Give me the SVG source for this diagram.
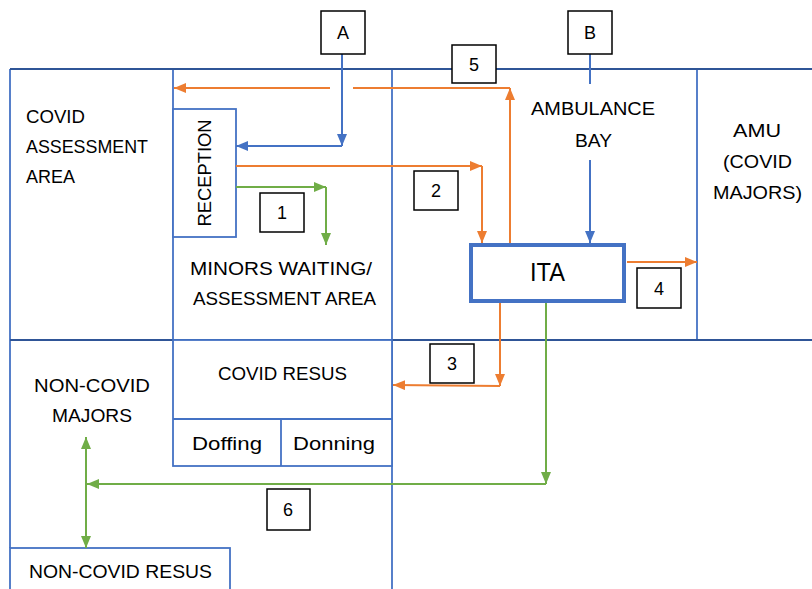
<svg xmlns="http://www.w3.org/2000/svg" width="812" height="589" viewBox="0 0 812 589">
<defs>
<style>
.wall{stroke:#4472C4;stroke-width:1.8;fill:none}
.main{stroke:#2F5597;stroke-width:2.2;fill:none}
.room{stroke:#4472C4;stroke-width:1.8;fill:#fff}
.t{font-family:"Liberation Sans",Arial,sans-serif;font-size:19px;fill:#000}
.c{text-anchor:middle}
.num{fill:#fff;stroke:#000;stroke-width:1.5}
.nt{font-family:"Liberation Sans",Arial,sans-serif;font-size:18px;fill:#000;text-anchor:middle}
.o{stroke:#ED7D31;stroke-width:2;fill:none}
.b{stroke:#4472C4;stroke-width:2;fill:none}
.g{stroke:#70AD47;stroke-width:2;fill:none}
</style>
<marker id="ao" viewBox="0 0 12 10" refX="12" refY="5" markerWidth="12" markerHeight="10" markerUnits="userSpaceOnUse" orient="auto"><path d="M0,0L12,5L0,10z" fill="#ED7D31"/></marker>
<marker id="ab" viewBox="0 0 12 10" refX="12" refY="5" markerWidth="12" markerHeight="10" markerUnits="userSpaceOnUse" orient="auto"><path d="M0,0L12,5L0,10z" fill="#4472C4"/></marker>
<marker id="ag" viewBox="0 0 12 10" refX="12" refY="5" markerWidth="12" markerHeight="10" markerUnits="userSpaceOnUse" orient="auto-start-reverse"><path d="M0,0L12,5L0,10z" fill="#70AD47"/></marker>
</defs>
<rect width="812" height="589" fill="#fff"/>

<g id="walls">
<line class="wall" x1="10" y1="69" x2="10" y2="548"/>
<line class="wall" x1="173" y1="69" x2="173" y2="340"/>
<line class="wall" x1="392" y1="69" x2="392" y2="589"/>
<line class="wall" x1="697" y1="69" x2="697" y2="340"/>
<line class="main" x1="10" y1="69" x2="812" y2="69"/>
<line class="main" x1="10" y1="340" x2="812" y2="340"/>
</g>

<g id="covid-assessment">
<text class="t" x="26" y="123" textLength="59" lengthAdjust="spacingAndGlyphs">COVID</text>
<text class="t" x="26" y="153" textLength="122" lengthAdjust="spacingAndGlyphs">ASSESSMENT</text>
<text class="t" x="26" y="183" textLength="49" lengthAdjust="spacingAndGlyphs">AREA</text>
</g>

<g id="reception">
<rect class="room" x="173" y="109" width="63" height="128"/>
<text class="t c" transform="translate(211,173) rotate(-90)" textLength="107" lengthAdjust="spacingAndGlyphs">RECEPTION</text>
</g>

<g id="minors">
<text class="t c" x="281" y="275" textLength="182" lengthAdjust="spacingAndGlyphs">MINORS WAITING/</text>
<text class="t c" x="284.5" y="305" textLength="183" lengthAdjust="spacingAndGlyphs">ASSESSMENT AREA</text>
</g>

<g id="ambulance-bay">
<text class="t c" x="593" y="115" textLength="124" lengthAdjust="spacingAndGlyphs">AMBULANCE</text>
<text class="t c" x="593.5" y="147" textLength="37" lengthAdjust="spacingAndGlyphs">BAY</text>
</g>

<g id="amu">
<text class="t c" x="757" y="137" textLength="48" lengthAdjust="spacingAndGlyphs">AMU</text>
<text class="t c" x="757.5" y="168" textLength="69" lengthAdjust="spacingAndGlyphs">(COVID</text>
<text class="t c" x="757.5" y="199" textLength="89" lengthAdjust="spacingAndGlyphs">MAJORS)</text>
</g>

<g id="covid-resus">
<rect class="room" x="173" y="340" width="219" height="126"/>
<line class="wall" x1="173" y1="419" x2="392" y2="419"/>
<line class="wall" x1="281" y1="419" x2="281" y2="466"/>
<text class="t c" x="282.5" y="380" textLength="129" lengthAdjust="spacingAndGlyphs">COVID RESUS</text>
<text class="t c" x="227" y="450" textLength="70" lengthAdjust="spacingAndGlyphs">Doffing</text>
<text class="t c" x="334" y="450" textLength="82" lengthAdjust="spacingAndGlyphs">Donning</text>
</g>

<g id="non-covid-majors">
<text class="t c" x="92" y="392" textLength="116" lengthAdjust="spacingAndGlyphs">NON-COVID</text>
<text class="t c" x="92" y="422" textLength="80" lengthAdjust="spacingAndGlyphs">MAJORS</text>
</g>

<g id="non-covid-resus">
<rect class="room" x="10" y="548" width="220" height="45"/>
<text class="t c" x="120.5" y="578" textLength="183" lengthAdjust="spacingAndGlyphs">NON-COVID RESUS</text>
</g>

<g id="connectors">
<polyline class="b" points="342,54 342,146" marker-end="url(#ab)"/>
<polyline class="b" points="342,146 236,146" marker-end="url(#ab)"/>
<line class="b" x1="590" y1="54" x2="590" y2="84"/>
<line class="b" x1="590" y1="160" x2="590" y2="243" marker-end="url(#ab)"/>
<line class="o" x1="330" y1="88" x2="174" y2="88" marker-end="url(#ao)"/>
<polyline class="o" points="353,88 510,88"/>
<line class="o" x1="510" y1="243" x2="510" y2="88" marker-end="url(#ao)"/>
<polyline class="o" points="236,166 482,166" marker-end="url(#ao)"/>
<polyline class="o" points="482,166 482,243" marker-end="url(#ao)"/>
<polyline class="g" points="236,187 326,187" marker-end="url(#ag)"/>
<polyline class="g" points="326,187 326,245" marker-end="url(#ag)"/>
<line class="o" x1="627" y1="262" x2="697" y2="262" marker-end="url(#ao)"/>
<polyline class="o" points="500,303 500,386" marker-end="url(#ao)"/>
<polyline class="o" points="500,386 393,385" marker-end="url(#ao)"/>
<polyline class="g" points="546,303 546,484" marker-end="url(#ag)"/>
<polyline class="g" points="546,484 87,484" marker-end="url(#ag)"/>
<line class="g" x1="86" y1="437" x2="86" y2="548" marker-start="url(#ag)" marker-end="url(#ag)"/>
</g>

<g id="ita">
<rect x="471" y="245" width="153" height="56" fill="#fff" stroke="#4472C4" stroke-width="4"/>
<text class="t c" x="547.5" y="281" style="font-size:25px" textLength="35" lengthAdjust="spacingAndGlyphs">ITA</text>
</g>

<g id="label-A"><rect class="num" x="321" y="11" width="44" height="43"/><text class="nt" x="343" y="39">A</text></g>
<g id="label-B"><rect class="num" x="568" y="11" width="44" height="43"/><text class="nt" x="590" y="39">B</text></g>
<g id="label-5"><rect class="num" x="452" y="45" width="44" height="38"/><text class="nt" x="474" y="71">5</text></g>
<g id="label-1"><rect class="num" x="260" y="193" width="44" height="39"/><text class="nt" x="282" y="219">1</text></g>
<g id="label-2"><rect class="num" x="414" y="171" width="44" height="39"/><text class="nt" x="436" y="197">2</text></g>
<g id="label-4"><rect class="num" x="637" y="268" width="44" height="40"/><text class="nt" x="659" y="295">4</text></g>
<g id="label-3"><rect class="num" x="430" y="344" width="44" height="39"/><text class="nt" x="452" y="370">3</text></g>
<g id="label-6"><rect class="num" x="267" y="489" width="43" height="41"/><text class="nt" x="288" y="516">6</text></g>
</svg>
